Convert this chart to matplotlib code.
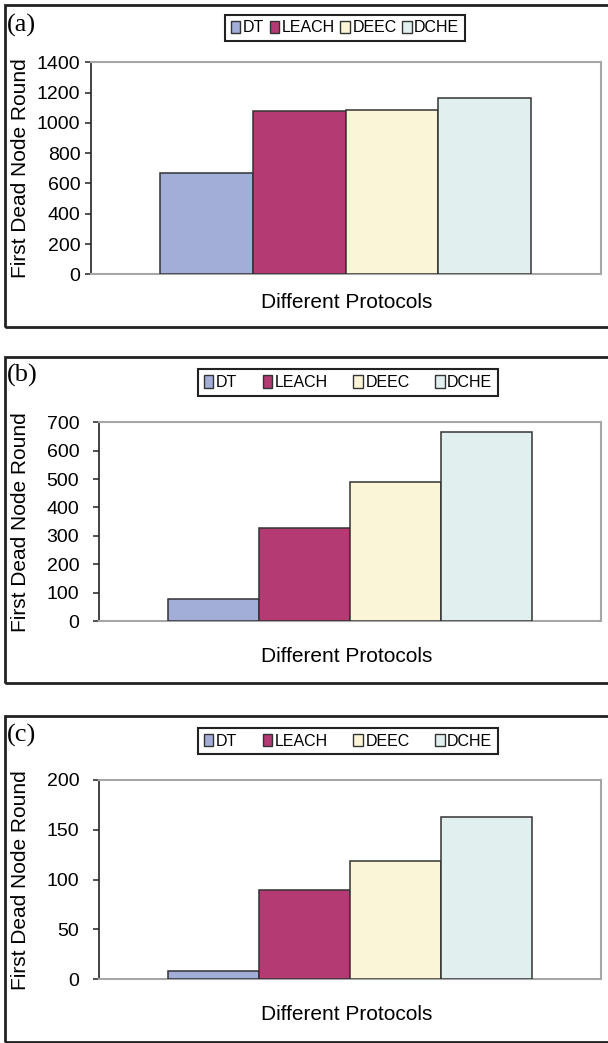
import matplotlib
matplotlib.use("Agg")
import matplotlib.pyplot as plt
from matplotlib.patches import Rectangle, Patch

plt.rcParams['font.family'] = ['Liberation Sans', 'DejaVu Sans']

protocols = ["DT", "LEACH", "DEEC", "DCHE"]
colors = ["#a2aed8", "#b33a72", "#fbf5d7", "#e1f0ef"]

rounds_a = [671, 1080, 1087, 1166]
rounds_b = [78, 328, 489, 666]
rounds_c = [8, 90, 119, 163]

ticks_a = [0, 200, 400, 600, 800, 1000, 1200, 1400]
ticks_b = [0, 100, 200, 300, 400, 500, 600, 700]
ticks_c = [0, 50, 100, 150, 200]

W, H = 608, 1043
fig = plt.figure(figsize=(W / 100, H / 100), dpi=100)

def fx(px):
    return px / W

def fy(py):
    return 1 - py / H

# panel layout in pixels: box top/bottom, axes left/top/bottom, legend, tick pad
panels = [
    dict(data=rounds_a, ticks=ticks_a, tag="(a)", box=(5, 327), ax=(90.7, 62.3, 274.3),
         leg=(345, 28, 0.35), pad=3, tagy=25, xl=303),
    dict(data=rounds_b, ticks=ticks_b, tag="(b)", box=(357, 683), ax=(99.3, 422.3, 621),
         leg=(348, 382.5, 1.6), pad=10, tagy=375, xl=657),
    dict(data=rounds_c, ticks=ticks_c, tag="(c)", box=(716, 1042), ax=(99.3, 780, 979.3),
         leg=(348, 741, 1.6), pad=10, tagy=735, xl=1015),
]

right = 600.7
w = 0.1817

for p in panels:
    top_b, bot_b = p["box"]
    fig.patches.append(Rectangle((fx(5), fy(bot_b)), fx(620), (bot_b - top_b) / H,
                                 transform=fig.transFigure, fill=False,
                                 edgecolor="#222222", linewidth=2))

    l, t, b = p["ax"]
    ax = fig.add_axes([fx(l), fy(b), fx(right - l), (b - t) / H])
    for i, (name, v) in enumerate(zip(protocols, p["data"])):
        ax.bar((i - 1.5) * w, v, width=w, color=colors[i], edgecolor="#333333",
               linewidth=1.1, label=name, zorder=3)
    ax.set_xlim(-0.5, 0.5)
    ax.set_ylim(p["ticks"][0], p["ticks"][-1])
    ax.set_yticks(p["ticks"])
    ax.set_xticks([])
    for s in ["top", "right", "bottom"]:
        ax.spines[s].set_color("#a6a6a6")
        ax.spines[s].set_linewidth(1.5)
    ax.spines["left"].set_color("#222222")
    ax.spines["left"].set_linewidth(1.2)
    ax.tick_params(axis="y", labelsize=14, length=4.5, width=1.1, color="#222222",
                   pad=p["pad"], direction="out")

    cx, cy, cs = p["leg"]
    handles = [Patch(facecolor=c, edgecolor="#333333", linewidth=1.0) for c in colors]
    leg = ax.legend(handles, protocols, loc="center", bbox_to_anchor=(fx(cx), fy(cy)),
                    bbox_transform=fig.transFigure, ncol=4, fontsize=11.5,
                    frameon=True, fancybox=False, framealpha=1, edgecolor="#222222",
                    handlelength=0.6, handleheight=0.8, handletextpad=0.15,
                    columnspacing=cs, borderpad=0.35, borderaxespad=0)
    leg.get_frame().set_linewidth(1.5)

    fig.text(fx(7), fy(p["tagy"]), p["tag"], family=["Liberation Serif", "DejaVu Serif"],
             fontsize=19, va="center", ha="left")
    fig.text(fx(347), fy(p["xl"]), "Different Protocols", fontsize=15,
             ha="center", va="center")
    fig.text(fx(21), fy((t + b) / 2), "First Dead Node Round", fontsize=15,
             rotation=90, ha="center", va="center")

fig.savefig("out.png", dpi=100)
